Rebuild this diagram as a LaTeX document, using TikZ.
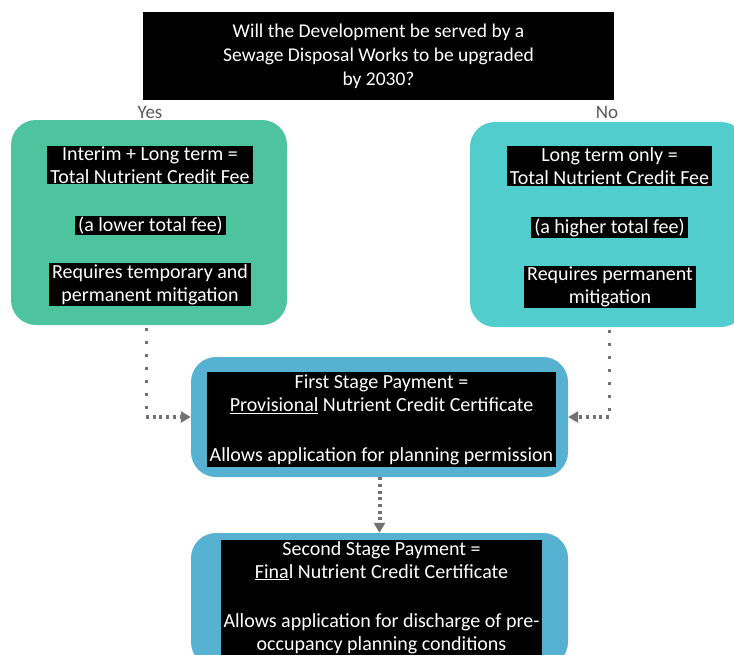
\documentclass[tikz,border=0pt]{standalone}
\usepackage{fontspec}
\setmainfont{Carlito}
\usetikzlibrary{arrows.meta}
\definecolor{feegreen}{HTML}{4EC49E}
\definecolor{feecyan}{HTML}{52CDCD}
\definecolor{stageblue}{HTML}{56B2D0}
\definecolor{flowgray}{HTML}{767171}
\definecolor{answergray}{HTML}{595959}
\tikzset{
  optionbox/.style={rounded corners=25pt,minimum width=276pt,minimum height=205pt},
  stagebox/.style={fill=stageblue,rounded corners=25pt,minimum width=377pt},
  blacklabel/.style={fill=black,text=white,align=center,inner xsep=3pt,inner ysep=1pt,
    font=\fontsize{20}{23}\selectfont},
  answer/.style={text=answergray,font=\fontsize{19}{20}\selectfont},
  sidedots/.style={flowgray,line width=3pt,dash pattern=on 3pt off 10pt,dash phase=-3pt},
  flow/.style={flowgray,line width=3.5pt,dash pattern=on 3pt off 3.7pt,
    -{Triangle[length=10pt,width=11pt]}},
}
\begin{document}
\begin{tikzpicture}[x=1pt,y=-1pt]
\clip (0,0) rectangle (734,654);
% question
\node[fill=black,text=white,align=center,minimum width=471pt,minimum height=88pt,
  font=\fontsize{19.5}{24}\selectfont] (question) at (378.5,56)
  {Will the Development be served by a\\Sewage Disposal Works to be upgraded\\by 2030?};
\node[answer] (yes) at (150,112) {Yes};
\node[answer] (no) at (607,112) {No};
% the two options
\node[optionbox,fill=feegreen] (interim) at (149,222.5) {};
\node[blacklabel] (interimfee) at (150,165) {Interim + Long term =\\Total Nutrient Credit Fee};
\node[blacklabel] (lowerfee) at (150.5,225.5) {(a lower total fee)};
\node[blacklabel] (interimmit) at (150,284.5) {Requires temporary and\\permanent mitigation};
\node[optionbox,fill=feecyan] (longterm) at (608,224.5) {};
\node[blacklabel] (longfee) at (609.5,166) {Long term only =\\Total Nutrient Credit Fee};
\node[blacklabel] (higherfee) at (609.5,227.5) {(a higher total fee)};
\node[blacklabel] (longmit) at (610,287) {Requires permanent\\mitigation};
% stage payments
\node[stagebox,minimum height=120pt] (first) at (379.5,417) {};
\node[blacklabel,minimum width=349pt,minimum height=95pt] (firsttext) at (381.5,419.5)
  {First Stage Payment =\\\underline{Provisional} Nutrient Credit Certificate\\[27pt]Allows application for planning permission};
\node[stagebox,minimum height=134pt] (second) at (379.5,600) {};
\node[blacklabel,anchor=north,minimum width=321pt] (secondtext) at (381.5,540)
  {Second Stage Payment =\\\underline{Fina}l Nutrient Credit Certificate\\[26pt]Allows application for discharge of pre-\\occupancy planning conditions\\[8pt]};
% connectors
\coordinate (yesturn) at ([xshift=-3pt]interim.south |- first.west);
\coordinate (noturn) at ([xshift=1pt]longterm.south |- first.east);
\draw[sidedots] ([xshift=-3pt]interim.south) -- (yesturn);
\draw[flow] (yesturn) -- (first.west);
\draw[sidedots] ([xshift=1pt]longterm.south) -- (noturn);
\draw[flow] (noturn) -- (first.east);
\draw[flow,line width=4pt] (first.south) -- (second.north);
\end{tikzpicture}
\end{document}
